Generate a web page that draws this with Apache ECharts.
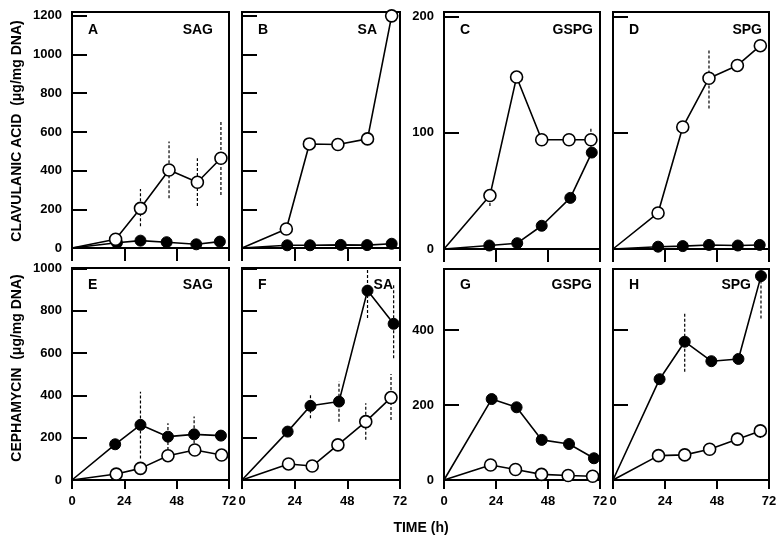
<!DOCTYPE html>
<html><head><meta charset="utf-8">
<script src="https://cdn.jsdelivr.net/npm/echarts@6/dist/echarts.min.js"></script>
<style>html,body{margin:0;padding:0;background:#fff}#c{width:784px;height:542px}</style>
</head><body><div id="c"></div>
<script>
// ---- data (time in h, values in µg/mg DNA) ----
const xTicks = [0, 24, 48, 72];
// Panel A: clavulanic acid, SAG
const A_open_t = [0, 20, 31.4, 44.5, 57.5, 68.3];
const A_open   = [0, 45, 205, 403, 340, 464];
const A_fill_t = [0, 20.6, 31.4, 43.4, 57, 67.8];
const A_fill   = [0, 27, 38, 30, 19, 33];
const A_err_open = [[31.4,112,305],[44.5,257,550],[57.5,217,464],[68.3,274,662]];
const A_err_fill = [];
// Panel B: clavulanic acid, SA
const B_open_t = [0, 20.2, 30.7, 43.7, 57.2, 68.2];
const B_open   = [0, 98, 538, 535, 564, 1200];
const B_fill_t = [0, 20.6, 31, 45, 57, 68.2];
const B_fill   = [0, 14, 14, 16, 15, 22];
const B_err_open = [];
const B_err_fill = [];
// Panel C: clavulanic acid, GSPG
const C_open_t = [0, 21.2, 33.5, 45.1, 57.7, 67.8];
const C_open   = [0, 46, 148, 94, 94, 94];
const C_fill_t = [0, 20.9, 33.8, 45.1, 58.3, 68.2];
const C_fill   = [0, 3, 5, 20, 44, 83];
const C_err_open = [[21.2,37,49],[67.8,88,104]];
const C_err_fill = [];
// Panel D: clavulanic acid, SPG
const D_open_t = [0, 20.8, 32.2, 44.3, 57.4, 68];
const D_open   = [0, 31, 105, 147, 158, 175];
const D_fill_t = [0, 20.8, 32.2, 44.3, 57.6, 67.7];
const D_fill   = [0, 2, 2.5, 3.5, 3, 3.5];
const D_err_open = [[44.3,121,172]];
const D_err_fill = [];
// Panel E: cephamycin, SAG
const E_open_t = [0, 20.3, 31.4, 44, 56.3, 68.6];
const E_open   = [0, 28, 55, 115, 142, 118];
const E_fill_t = [0, 19.8, 31.4, 44, 56, 68.3];
const E_fill   = [0, 169, 261, 205, 216, 210];
const E_err_open = [];
const E_err_fill = [[19.8,160,185],[31.4,102,418],[44,142,268],[56,150,300]];
// Panel F: cephamycin, SA
const F_open_t = [0, 21.2, 32, 43.7, 56.4, 67.9];
const F_open   = [0, 76, 66, 166, 276, 390];
const F_fill_t = [0, 20.8, 31.2, 44.2, 57.2, 69.1];
const F_fill   = [0, 229, 351, 371, 896, 739];
const F_err_open = [[56.4,190,363],[67.9,284,501]];
const F_err_fill = [[31.2,292,411],[44.2,276,466],[57.2,766,995],[69.1,576,924]];
// Panel G: cephamycin, GSPG
const G_open_t = [0, 21.5, 33, 45, 57.3, 68.6];
const G_open   = [0, 40, 28, 15, 12, 10];
const G_fill_t = [0, 22, 33.5, 45.1, 57.7, 69.2];
const G_fill   = [0, 216, 194, 107, 96, 58];
const G_err_open = [];
const G_err_fill = [];
// Panel H: cephamycin, SPG
const H_open_t = [0, 21, 33.1, 44.6, 57.4, 68];
const H_open   = [0, 65, 67, 82, 109, 131];
const H_fill_t = [0, 21.5, 33.1, 45.4, 57.9, 68.3];
const H_fill   = [0, 269, 369, 317, 323, 544];
const H_err_open = [[68,112,152]];
const H_err_fill = [[33.1,289,449],[45.4,307,330],[57.9,312,335],[68.3,431,563]];

const clavTicks = [0, 200, 400, 600, 800, 1000, 1200];
const clavTicksSmall = [0, 100, 200];
const cephTicks = [0, 200, 400, 600, 800, 1000];
const cephTicksSmall = [0, 200, 400];

const panels = [
  {L:'A', N:'SAG',  ot:A_open_t,o:A_open,ft:A_fill_t,f:A_fill,eo:A_err_open,ef:A_err_fill, ymax:1220, yt:clavTicks, ylab:true,  xlab:false, g:{left:72, top:12, width:157, height:236}, nx:213, row:0},
  {L:'B', N:'SA',   ot:B_open_t,o:B_open,ft:B_fill_t,f:B_fill,eo:B_err_open,ef:B_err_fill, ymax:1220, yt:clavTicks, ylab:false, xlab:false, g:{left:242,top:12, width:158, height:236}, nx:377, row:0},
  {L:'C', N:'GSPG', ot:C_open_t,o:C_open,ft:C_fill_t,f:C_fill,eo:C_err_open,ef:C_err_fill, ymax:204,  yt:clavTicksSmall, ylab:true,  xlab:false, g:{left:444,top:12, width:156, height:237}, nx:593, row:0},
  {L:'D', N:'SPG',  ot:D_open_t,o:D_open,ft:D_fill_t,f:D_fill,eo:D_err_open,ef:D_err_fill, ymax:204,  yt:clavTicksSmall, ylab:false, xlab:false, g:{left:613,top:12, width:156, height:237}, nx:762, row:0},
  {L:'E', N:'SAG',  ot:E_open_t,o:E_open,ft:E_fill_t,f:E_fill,eo:E_err_open,ef:E_err_fill, ymax:1003, yt:cephTicks, ylab:true,  xlab:true,  g:{left:72, top:268,width:157, height:212}, nx:213, row:1},
  {L:'F', N:'SA',   ot:F_open_t,o:F_open,ft:F_fill_t,f:F_fill,eo:F_err_open,ef:F_err_fill, ymax:1003, yt:cephTicks, ylab:false, xlab:true,  g:{left:242,top:268,width:158, height:212}, nx:393, row:1},
  {L:'G', N:'GSPG', ot:G_open_t,o:G_open,ft:G_fill_t,f:G_fill,eo:G_err_open,ef:G_err_fill, ymax:563,  yt:cephTicksSmall, ylab:true,  xlab:true,  g:{left:444,top:269,width:156, height:211}, nx:592, row:1},
  {L:'H', N:'SPG',  ot:H_open_t,o:H_open,ft:H_fill_t,f:H_fill,eo:H_err_open,ef:H_err_fill, ymax:563,  yt:cephTicksSmall, ylab:false, xlab:true,  g:{left:613,top:269,width:156, height:211}, nx:751, row:1}
];

const FONT = '"Liberation Sans", Arial, Helvetica, sans-serif';
const grids = [], xAxes = [], yAxes = [], series = [], graphics = [];

function pts(t, v) {
  return t.map((x, i) => ({value: [x, v[i]], symbol: i === 0 ? 'none' : 'circle'}));
}
function errSeries(idx, data) {
  return {
    type: 'custom', xAxisIndex: idx, yAxisIndex: idx, z: 1, silent: true,
    data: data,
    renderItem: function (params, api) {
      const p1 = api.coord([api.value(0), api.value(1)]);
      const p2 = api.coord([api.value(0), api.value(2)]);
      return {type: 'line', shape: {x1: p1[0], y1: p1[1], x2: p2[0], y2: p2[1]},
        style: {stroke: '#000', lineWidth: 1.2, lineDash: [3, 2]}};
    }
  };
}
const plain = v => String(v);

panels.forEach((p, i) => {
  grids.push(Object.assign({show: true, borderColor: '#000', borderWidth: 2, backgroundColor: 'transparent', containLabel: false}, p.g));
  xAxes.push({
    type: 'value', gridIndex: i, min: 0, max: 72, interval: 24,
    axisLine: {show: true, onZero: false, lineStyle: {color: '#000', width: 2}},
    axisTick: {show: true, inside: false, length: p.row === 0 ? 13 : 9, customValues: xTicks, lineStyle: {color: '#000', width: 2}},
    axisLabel: {show: p.xlab, customValues: xTicks, formatter: plain, color: '#000', fontFamily: FONT, fontWeight: 'bold', fontSize: 13, margin: 15},
    splitLine: {show: false}
  });
  yAxes.push({
    type: 'value', gridIndex: i, min: 0, max: p.ymax,
    axisLine: {show: true, onZero: false, lineStyle: {color: '#000', width: 2}},
    axisTick: {show: true, inside: true, length: 15, customValues: p.yt, lineStyle: {color: '#000', width: 2}},
    axisLabel: {show: p.ylab, customValues: p.yt, formatter: plain, color: '#000', fontFamily: FONT, fontWeight: 'bold', fontSize: 13, margin: 10},
    splitLine: {show: false}
  });
  if (p.ef.length) series.push(errSeries(i, p.ef));
  if (p.eo.length) series.push(errSeries(i, p.eo));
  series.push({
    type: 'line', xAxisIndex: i, yAxisIndex: i, z: 3, data: pts(p.ft, p.f),
    symbolSize: 11, lineStyle: {color: '#000', width: 1.6},
    itemStyle: {color: '#000', borderColor: '#000', borderWidth: 1}, animation: false
  });
  series.push({
    type: 'line', xAxisIndex: i, yAxisIndex: i, z: 4, data: pts(p.ot, p.o),
    symbolSize: 12, lineStyle: {color: '#000', width: 1.6},
    itemStyle: {color: '#fff', borderColor: '#000', borderWidth: 1.6}, animation: false
  });
  const ty = p.row === 0 ? 30 : 285;
  graphics.push({type: 'text', x: p.g.left + 16, y: ty, z: 10,
    style: {text: p.L, font: 'bold 14px ' + FONT, fill: '#000', align: 'left', verticalAlign: 'middle'}});
  graphics.push({type: 'text', x: p.nx, y: ty, z: 10,
    style: {text: p.N, font: 'bold 14px ' + FONT, fill: '#000', align: 'right', verticalAlign: 'middle'}});
});

graphics.push({type: 'text', x: 17, y: 131, rotation: Math.PI / 2,
  style: {text: 'CLAVULANIC ACID  (μg/mg DNA)', font: 'bold 14px ' + FONT, fill: '#000', align: 'center', verticalAlign: 'middle'}});
graphics.push({type: 'text', x: 17, y: 368, rotation: Math.PI / 2,
  style: {text: 'CEPHAMYCIN  (μg/mg DNA)', font: 'bold 14px ' + FONT, fill: '#000', align: 'center', verticalAlign: 'middle'}});
graphics.push({type: 'text', x: 421, y: 528,
  style: {text: 'TIME (h)', font: 'bold 14px ' + FONT, fill: '#000', align: 'center', verticalAlign: 'middle'}});

const chart = echarts.init(document.getElementById('c'), null, {renderer: 'canvas'});
chart.setOption({
  animation: false,
  backgroundColor: '#fff',
  grid: grids, xAxis: xAxes, yAxis: yAxes, series: series, graphic: graphics
});
</script>
</body></html>
